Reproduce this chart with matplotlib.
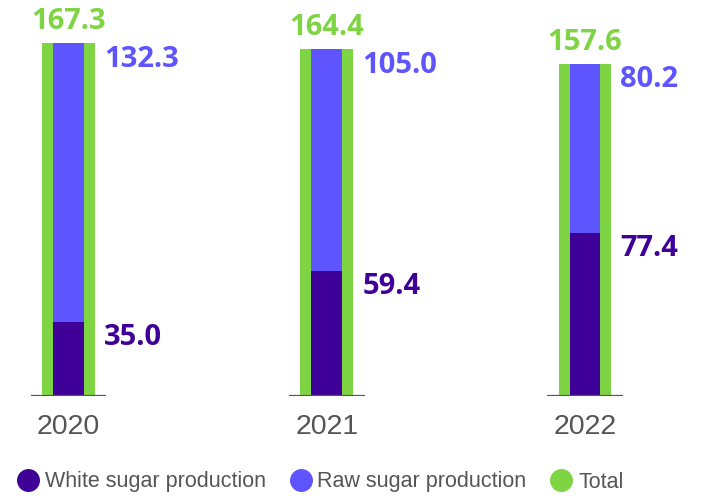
import numpy as np
import matplotlib.pyplot as plt
from matplotlib.lines import Line2D

years = ["2020", "2021", "2022"]
white = [35.0, 59.4, 77.4]
raw = [132.3, 105.0, 80.2]
total = [167.3, 164.4, 157.6]

c_white = "#3f0098"
c_raw = "#5e55fe"
c_total = "#7fd444"
c_grey = "#555555"

plt.rcParams["font.family"] = ["Liberation Sans", "DejaVu Sans"]
vfont = ["Open Sans", "DejaVu Sans"]

fig = plt.figure(figsize=(7.01, 4.96), dpi=100)
ax = fig.add_axes([0, 100.3 / 496, 1, 1 - 100.3 / 496])
x = np.arange(len(years))

ax.bar(x, total, width=0.205, color=c_total, zorder=1)
ax.bar(x, white, width=0.12, color=c_white, zorder=2)
ax.bar(x, raw, width=0.12, bottom=white, color=c_raw, zorder=2)
ax.hlines(np.zeros(len(x)), x - 0.147, x + 0.147, color=c_grey, lw=1.6, zorder=3)

for i in range(len(x)):
    ax.annotate(f"{total[i]:.1f}", (x[i], total[i]), xytext=(0, 14), textcoords="offset pixels",
                ha="center", va="baseline", color=c_total, fontsize=21, fontweight="bold", family=vfont)
    ax.annotate(f"{raw[i]:.1f}", (x[i] + 0.137, white[i] + raw[i]), xytext=(0, -23.5), textcoords="offset pixels",
                ha="left", va="baseline", color=c_raw, fontsize=21, fontweight="bold", family=vfont)
    ax.annotate(f"{white[i]:.1f}", (x[i] + 0.137, white[i]), xytext=(0, -23), textcoords="offset pixels",
                ha="left", va="baseline", color=c_white, fontsize=21, fontweight="bold", family=vfont)
    ax.annotate(years[i], (x[i], 0), xytext=(0, -38), textcoords="offset pixels",
                ha="center", va="baseline", color=c_grey, fontsize=20.5)

ax.set_xlim(-68.5 / 258.25, (701 - 68.5) / 258.25)
ax.set_ylim(0, (496 - 100.3) / 2.107)
ax.axis("off")

handles = [Line2D([], [], ls="", marker="o", ms=15.5, color=c) for c in (c_white, c_raw, c_total)]
fig.legend(handles, ["White sugar production", "Raw sugar production", "Total"],
           loc="center left", bbox_to_anchor=(17.25 / 701, 14 / 496), ncol=3, frameon=False,
           fontsize=15.5, labelcolor=c_grey, handletextpad=0.27, columnspacing=1.13,
           handlelength=1.0, borderpad=0.0, borderaxespad=0.0)

fig.savefig("out.png", dpi=100)
